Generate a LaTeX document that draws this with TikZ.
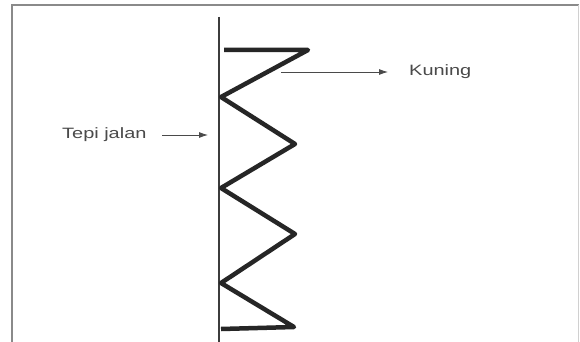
\documentclass[tikz,border=0pt]{standalone}
\usepackage{fontspec}
\setmainfont{Liberation Sans}
\usetikzlibrary{arrows.meta}
\definecolor{inkc}{HTML}{262626}
\definecolor{framec}{HTML}{8A8A8A}
\definecolor{textc}{HTML}{4A4A4A}
\tikzset{
  zig/.style={draw=inkc, line width=4.5pt, line join=round, line cap=butt},
  road/.style={draw=inkc!90, line width=2.6pt},
  lbl/.style={text=textc, font=\fontsize{15}{17}\selectfont, inner sep=0pt},
  pointer/.style={draw=textc, line width=0.8pt, -{Latex[length=9pt,width=6pt]}}
}
\begin{document}
\begin{tikzpicture}[x=1pt,y=-1pt]
\useasboundingbox (0,0) rectangle (580,342);
\fill[white] (0,0) rectangle (580,342);
% frame
\draw[framec, line width=2pt] (12,342) -- (12,5) -- (579,5);
\draw[framec!40, line width=1pt] (578,5) -- (578,342);
% road edge
\coordinate (r1) at (219,17);
\coordinate (r2) at (219,342);
\draw[road] (r1) -- (r2);
% zigzag
\coordinate (z0) at (224,50);
\coordinate (z1) at (308,50);
\coordinate (z2) at (221,97);
\coordinate (z3) at (295,144);
\coordinate (z4) at (221,188);
\coordinate (z5) at (295,234);
\coordinate (z6) at (221,283);
\coordinate (z7) at (294,327);
\coordinate (z8) at (221,329);
\draw[zig] (z0) -- (z1) -- (z2) -- (z3) -- (z4) -- (z5) -- (z6) -- (z7) -- (z8);
% labels
\node[lbl, anchor=west] (kuning) at (409,72) {\scalebox{1.33}[1]{Kuning}};
\coordinate (k0) at (281,72);
\draw[pointer] (k0) -- (388,72);
\node[lbl, anchor=west] (tepi) at (62,135) {\scalebox{1.33}[1]{Tepi jalan}};
\coordinate (t1) at (208,135);
\draw[pointer] (162,135) -- (t1);
\end{tikzpicture}
\end{document}
